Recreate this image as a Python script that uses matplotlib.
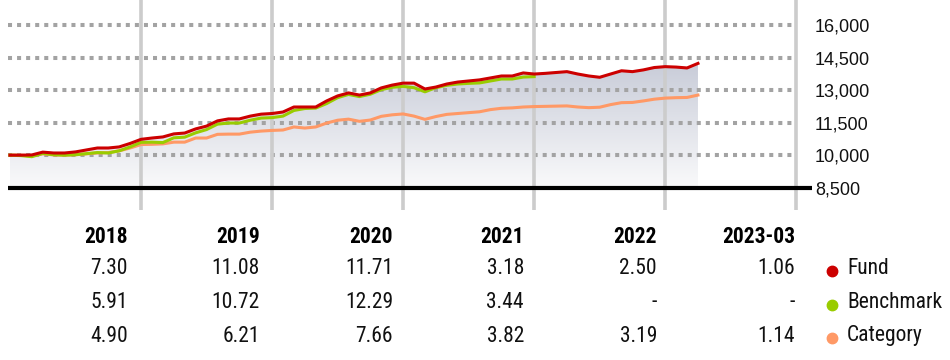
# Growth of 10,000 chart with the annual returns table underneath.

import numpy
import matplotlib
matplotlib.use('Agg')
from matplotlib import pyplot
from matplotlib import font_manager
from matplotlib.colors import LinearSegmentedColormap
from matplotlib.lines import Line2D


# month index 0 = start of 2018, 63 = end of 2023-03
fund = [10000, 10000, 10010, 10140, 10100, 10100, 10150, 10240, 10330, 10330, 10380, 10540, 10730,
        10790, 10840, 10980, 11020, 11210, 11340, 11580, 11670, 11670, 11800, 11890, 11920,
        11990, 12220, 12220, 12220, 12500, 12730, 12870, 12770, 12870, 13100, 13230, 13320,
        13320, 13050, 13140, 13280, 13370, 13420, 13470, 13560, 13650, 13650, 13790, 13740,
        13770, 13810, 13850, 13740, 13650, 13590, 13740, 13890, 13850, 13930, 14040, 14080,
        14060, 14020, 14230]
benchmark = [10000, 9980, 9930, 10080, 10020, 10000, 10020, 10070, 10120, 10100, 10200, 10380, 10590,
             10600, 10580, 10800, 10830, 11030, 11180, 11430, 11480, 11480, 11610, 11710, 11730,
             11800, 12060, 12150, 12170, 12380, 12650, 12800, 12700, 12810, 13020, 13130, 13170,
             13110, 12920, 13110, 13220, 13280, 13310, 13330, 13420, 13510, 13510, 13600, 13620]
category = [10000, 10000, 9960, 10060, 10010, 10000, 10020, 10060, 10100, 10120, 10200, 10330, 10490,
            10500, 10520, 10600, 10600, 10790, 10790, 10960, 10970, 10970, 11060, 11110, 11140,
            11160, 11300, 11250, 11300, 11480, 11610, 11660, 11560, 11620, 11790, 11860, 11900,
            11800, 11650, 11780, 11880, 11920, 11960, 12000, 12100, 12160, 12180, 12220, 12240,
            12250, 12260, 12270, 12220, 12190, 12210, 12330, 12420, 12430, 12500, 12580, 12630,
            12650, 12660, 12770]

y_ticks = [8500, 10000, 11500, 13000, 14500, 16000]
year_breaks = [12, 24, 36, 48, 60, 72]

periods = ['2018', '2019', '2020', '2021', '2022', '2023-03']
fund_returns = ['7.30', '11.08', '11.71', '3.18', '2.50', '1.06']
benchmark_returns = ['5.91', '10.72', '12.29', '3.44', '-', '-']
category_returns = ['4.90', '6.21', '7.66', '3.82', '3.19', '1.14']
series_names = ['Fund', 'Benchmark', 'Category']

colors = {'Fund': '#cc0000', 'Benchmark': '#99cc00', 'Category': '#ff9966'}

W, H = 950, 360


def fx(px):
  return px / W


def fy(py):
  return 1 - py / H


installed = {f.name for f in font_manager.fontManager.ttflist}
if 'Liberation Sans Narrow' in installed:
  table_family = ['Liberation Sans Narrow', 'DejaVu Sans']
  table_size = 16
elif 'Roboto Condensed' in installed:
  table_family = ['Roboto Condensed', 'DejaVu Sans']
  table_size = 15.5
else:
  table_family = ['Liberation Sans', 'DejaVu Sans']
  table_size = 13.5

fig = pyplot.figure(figsize=(W / 100, H / 100), dpi=100)
ax = fig.add_axes([fx(8), 150 / H, (812 - 8) / W, 210 / H])

# x: px = 10 + 10.92 * month ; y: 8500 at px 187.7, 16000 at px 25
x_left = -2 / 10.92
x_right = (812 - 10) / 10.92
ax.set_xlim(x_left, x_right)
ax.set_ylim(8500 - 22.3 * 46.1, 16000 + 25 * 46.1)

months = numpy.arange(len(fund))
months_bm = numpy.arange(len(benchmark))

# gradient area under the fund line
poly = ax.fill_between(months, fund, 8500, facecolor='none', edgecolor='none')
grad = LinearSegmentedColormap.from_list('area', ['#fafafb', '#c6cad7'])
img = ax.imshow(numpy.linspace(0, 1, 256).reshape(-1, 1), cmap=grad,
                extent=[0, len(fund) - 1, 8500, 14500], origin='lower',
                aspect='auto', zorder=1)
img.set_clip_path(poly.get_paths()[0], transform=ax.transData)

# grid
for yv in y_ticks[1:]:
  ax.hlines(yv, x_left, (792 - 10) / 10.92, colors='#a3a3a3', linewidth=2.9,
            linestyles=(0, (1.0, 1.25)), zorder=2)
for xv in year_breaks:
  ax.axvline(xv, color='#cccccc', linewidth=2.6, zorder=2)
ax.axhline(8500, color='black', linewidth=3.0, zorder=3)

ax.plot(months, category, color=colors['Category'], linewidth=2.2, zorder=4)
ax.plot(months_bm, benchmark, color=colors['Benchmark'], linewidth=2.2, zorder=5)
ax.plot(months, fund, color=colors['Fund'], linewidth=2.2, zorder=6)

ax.set_xticks([])
ax.yaxis.tick_right()
ax.set_yticks(y_ticks)
ax.set_yticklabels(['{:,}'.format(v) for v in y_ticks])
for lbl in ax.get_yticklabels():
  lbl.set_fontfamily(['Liberation Sans', 'DejaVu Sans'])
  lbl.set_fontsize(13)
  lbl.set_color('#111111')
ax.tick_params(axis='y', length=0, pad=2)
for spine in ax.spines.values():
  spine.set_visible(False)
ax.patch.set_visible(False)

# returns table
col_right = [128, 260, 393, 524, 657, 795]
row_y = [269, 303, 336]
for xr, label in zip(col_right, periods):
  fig.text(fx(xr), fy(237), label, ha='right', va='center', fontsize=table_size,
           fontweight='bold', family=table_family, color='black')
rows = [fund_returns, benchmark_returns, category_returns]
for yr, values in zip(row_y, rows):
  for xr, val in zip(col_right, values):
    fig.text(fx(xr), fy(yr), val, ha='right', va='center', fontsize=table_size,
             family=table_family, color='#111111')

for yr, name in zip(row_y, series_names):
  fig.add_artist(Line2D([fx(832)], [fy(yr + 2)], marker='o', markersize=7.5,
                        color=colors[name], linestyle='none',
                        transform=fig.transFigure))
  fig.text(fx(847), fy(yr), name, ha='left', va='center', fontsize=table_size,
           family=table_family, color='#111111')

fig.savefig('out.png', dpi=100)
